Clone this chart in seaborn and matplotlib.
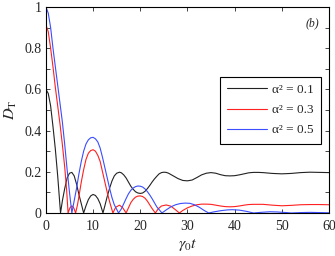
import pandas as pd
import matplotlib
matplotlib.use('Agg')
import matplotlib.pyplot as plt
import seaborn as sns

# valores (t, D_T) para cada alpha^2
t_01 = [0, 0.5, 1.0, 1.5, 2.0, 2.5, 3.1, 3.5, 4.0, 4.5, 5.0, 5.5, 6.0, 6.5, 7.0, 7.5, 8.0,
        8.5, 9.0, 9.5, 10.0, 10.5, 11.0, 11.5, 12.1, 12.5, 13.0, 13.5, 14.0, 14.5, 15.0, 15.6,
        16.0, 16.5, 17.0, 17.5, 18.0, 18.5, 19.0, 19.5, 20.0, 20.5, 21.0, 21.5, 22.0, 22.5,
        23.0, 23.5, 24.0, 24.5, 25.0, 25.5, 26.0, 27.0, 28.0, 29.0, 30.0, 31.0, 32.0, 33.0,
        34.0, 35.0, 36.0, 37.0, 38.0, 39.0, 40.0, 41.0, 42.0, 43.0, 44.0, 45.0, 46.0, 48.0,
        50.0, 52.0, 54.0, 56.0, 58.0, 60.0]
d_01 = [0.60, 0.58, 0.52, 0.42, 0.31, 0.18, 0.0, 0.06, 0.12, 0.17, 0.193, 0.197, 0.18,
        0.14, 0.09, 0.045, 0.0, 0.035, 0.065, 0.083, 0.09, 0.085, 0.07, 0.045, 0.0, 0.035,
        0.08, 0.12, 0.155, 0.18, 0.193, 0.198, 0.195, 0.185, 0.17, 0.15, 0.13, 0.115, 0.103,
        0.097, 0.095, 0.097, 0.105, 0.118, 0.133, 0.15, 0.165, 0.178, 0.19, 0.196, 0.198,
        0.197, 0.193, 0.18, 0.167, 0.158, 0.156, 0.16, 0.172, 0.185, 0.193, 0.196, 0.193,
        0.186, 0.181, 0.18, 0.181, 0.185, 0.19, 0.195, 0.197, 0.197, 0.196, 0.192, 0.19,
        0.192, 0.196, 0.198, 0.197, 0.196]

t_03 = [0, 0.5, 1.0, 1.5, 2.0, 2.5, 3.0, 3.5, 4.0, 4.4, 4.7, 5.1, 5.5, 5.9, 6.3, 6.7, 7.0,
        7.5, 8.0, 8.5, 9.0, 9.5, 10.0, 10.5, 11.0, 11.5, 12.0, 12.5, 13.0, 13.5, 14.2, 14.8,
        15.6, 16.3, 17.0, 17.5, 18.0, 18.5, 19.0, 19.5, 20.0, 20.5, 21.0, 21.5, 22.0, 22.5,
        23.2, 23.8, 24.5, 25.5, 26.5, 27.5, 28.3, 29.0, 30.0, 31.0, 32.0, 33.0, 34.0, 35.0,
        36.0, 37.0, 38.0, 39.0, 40.0, 41.0, 42.0, 43.0, 44.0, 46.0, 48.0, 50.0, 52.0, 54.0,
        56.0, 58.0, 60.0]
d_03 = [0.913, 0.88, 0.80, 0.71, 0.61, 0.52, 0.43, 0.33, 0.22, 0.11, 0.0, 0.025, 0.035,
        0.025, 0.0, 0.04, 0.08, 0.15, 0.21, 0.26, 0.29, 0.303, 0.307, 0.30, 0.28, 0.25, 0.20,
        0.15, 0.10, 0.055, 0.0, 0.028, 0.038, 0.025, 0.0, 0.025, 0.05, 0.066, 0.077, 0.082,
        0.083, 0.08, 0.072, 0.058, 0.04, 0.022, 0.0, 0.02, 0.034, 0.039, 0.033, 0.015, 0.0,
        0.012, 0.025, 0.034, 0.04, 0.043, 0.043, 0.042, 0.038, 0.034, 0.031, 0.03, 0.031,
        0.034, 0.038, 0.041, 0.042, 0.042, 0.038, 0.035, 0.037, 0.04, 0.041, 0.041, 0.04]

t_05 = [0, 0.5, 1.0, 1.5, 2.0, 2.5, 3.0, 3.5, 4.0, 4.5, 5.0, 5.5, 6.0, 6.5, 7.0, 7.5, 8.0,
        8.5, 9.0, 9.5, 10.0, 10.5, 11.0, 11.5, 12.0, 12.5, 13.0, 13.5, 14.0, 14.5, 15.4, 16.0,
        16.5, 17.0, 17.5, 18.0, 18.5, 19.0, 19.5, 20.0, 20.5, 21.0, 21.5, 22.0, 22.5, 23.0,
        23.5, 24.6, 25.5, 26.5, 27.5, 28.5, 29.5, 30.5, 31.5, 32.5, 33.5, 34.5, 35.5, 37.0,
        38.5, 39.5, 41.0, 42.5, 44.0, 45.5, 47.5, 49.0, 51.0, 52.0, 54.0, 56.0, 58.0, 60.0]
d_05 = [1.0, 0.97, 0.90, 0.80, 0.71, 0.62, 0.53, 0.44, 0.33, 0.21, 0.10, 0.0, 0.06, 0.12,
        0.19, 0.25, 0.30, 0.335, 0.355, 0.365, 0.367, 0.36, 0.345, 0.315, 0.27, 0.22, 0.17,
        0.12, 0.075, 0.04, 0.0, 0.02, 0.045, 0.07, 0.093, 0.11, 0.121, 0.128, 0.131, 0.13,
        0.126, 0.117, 0.104, 0.088, 0.07, 0.05, 0.03, 0.0, 0.015, 0.03, 0.04, 0.046, 0.048,
        0.047, 0.04, 0.028, 0.013, 0.0, 0.005, 0.011, 0.015, 0.016, 0.014, 0.008, 0.0,
        0.003, 0.006, 0.005, 0.002, 0.0, 0.002, 0.003, 0.002, 0.001]

labels = ['α² = 0.1', 'α² = 0.3', 'α² = 0.5']
colors = ['#222222', '#ff2020', '#3a4dff']

df = pd.concat([
    pd.DataFrame({'t': t_01, 'D': d_01, 'alpha': labels[0]}),
    pd.DataFrame({'t': t_03, 'D': d_03, 'alpha': labels[1]}),
    pd.DataFrame({'t': t_05, 'D': d_05, 'alpha': labels[2]}),
])

sns.set_style('ticks')
plt.rcParams['font.family'] = ['Liberation Serif', 'DejaVu Serif']
plt.rcParams['mathtext.fontset'] = 'stix'
plt.rcParams['xtick.direction'] = 'in'
plt.rcParams['ytick.direction'] = 'in'

fig = plt.figure(figsize=(3.35, 2.56), dpi=100)
ax = fig.add_axes([0.137, 0.168, 0.845, 0.805])

sns.lineplot(data=df, x='t', y='D', hue='alpha', palette=colors, estimator=None,
             linewidth=0.8, ax=ax)

ax.set_xlim(0, 60)
ax.set_ylim(0, 1)
ax.set_xticks([0, 10, 20, 30, 40, 50, 60])
yt = [i / 10 for i in range(11)]
ax.set_yticks(yt)
ax.set_yticklabels(['0' if v == 0 else ('1' if v == 1 else f'{v:g}') if i % 2 == 0 else ''
                    for i, v in enumerate(yt)])
ax.tick_params(axis='both', labelsize=10, length=3, width=0.6,
               top=True, right=True)
ax.tick_params(axis='x', pad=5)
ax.tick_params(axis='y', pad=3)
for s in ax.spines.values():
    s.set_linewidth(0.8)
    s.set_color('black')

ax.set_xlabel(r'$\gamma_0 t$', fontsize=11.5, labelpad=3)
ax.set_ylabel(r'$D_{\rm T}$', fontsize=11.5, labelpad=4)
ax.text(0.94, 0.92, '(b)', transform=ax.transAxes, fontsize=8.5, style='italic',
        ha='center', va='center')

leg = ax.legend(loc='upper right', bbox_to_anchor=(0.972, 0.662), fontsize=9.5,
                fancybox=False, framealpha=1, edgecolor='black', borderpad=0.55,
                borderaxespad=0, handlelength=3.0, labelspacing=0.6, handletextpad=0.4)
leg.get_frame().set_linewidth(0.8)
leg.set_title(None)

plt.savefig('out.png', dpi=100)
